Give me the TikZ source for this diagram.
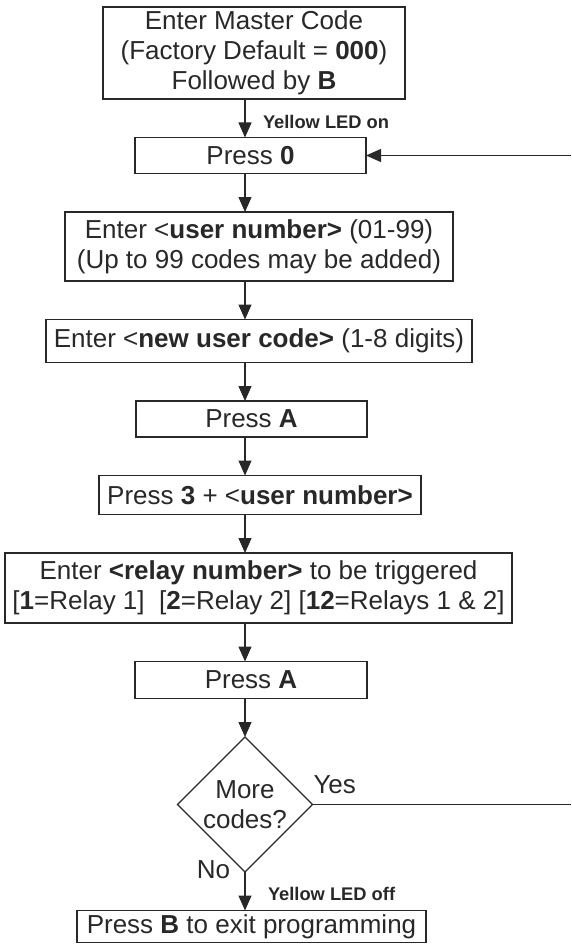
\documentclass[tikz,border=0pt]{standalone}
\usepackage{fontspec}
\setmainfont{Liberation Sans}
\usepackage{tikz}
\usetikzlibrary{arrows.meta,calc,positioning,shapes.geometric}
\definecolor{ink}{RGB}{40,40,40}
\tikzset{
	flow chart/.style={
		x=1pt, y=1pt,
		node distance=38.5pt,
		every node/.style={text=ink, inner sep=0pt, outer sep=0pt},
		ar/.style={draw=ink, line width=1.2pt, -{Triangle[length=15pt,width=13pt]}},
		wire/.style={draw=ink, line width=1.2pt}
		},
	big font/.style={font=\fontsize{26}{30}\selectfont},
	fbox/.style 2 args={draw=ink, line width=1.2pt, big font, align=center,
		minimum width=#1, minimum height=#2},
	decision/.style={diamond, draw=ink, line width=1.2pt, big font, align=center,
		aspect=1, minimum width=135pt, minimum height=135pt},
	led/.style={font=\fontsize{18.3}{20}\selectfont\bfseries},
	tag/.style={big font}
}

\begin{document}
\begin{tikzpicture}[flow chart]
  \useasboundingbox (0,0) rectangle (571,-944);
  \node[fbox={302pt}{92pt}] (master) at (254,-53)
    {Enter Master Code\\(Factory Default = \textbf{000})\\Followed by \textbf{B}};
  \node[fbox={231pt}{36pt}, below=of master, xshift=-3.5pt] (zero) {Press \textbf{0}};
  \node[fbox={388pt}{69pt}, below=of zero, xshift=8.5pt] (user)
    {Enter <\textbf{user number>} (01-99)\\(Up to 99 codes may be added)};
  \node[fbox={426pt}{43pt}, below=of user] (newcode) {Enter <\textbf{new user code>} (1-8 digits)};
  \node[fbox={231pt}{36pt}, below=of newcode, xshift=-7.5pt] (pressA) {Press \textbf{A}};
  \node[fbox={322pt}{39pt}, below=of pressA, xshift=8.5pt] (three) {Press \textbf{3} + <\textbf{user number>}};
  \node[fbox={507pt}{70pt}, below=of three, xshift=-1.5pt] (relay)
    {Enter \textbf{<relay number>} to be triggered\\{}[\textbf{1}=Relay 1]\ \ [\textbf{2}=Relay 2] [\textbf{12}=Relays 1 \& 2]};
  \node[fbox={232pt}{37pt}, below=of relay, xshift=-7.5pt] (pressAA) {Press \textbf{A}};
  \node[decision, below=of pressAA, xshift=-6pt] (more) {More\\codes?};
  \node[fbox={349pt}{32pt}, below=of more, xshift=6.5pt] (exit) {Press \textbf{B} to exit programming};
  \coordinate (edge) at (571,0);
  \node[led, anchor=west] (ledon) at ($(master.south -| more)+(18,-23)$) {Yellow LED on};
  \node[led, anchor=west] (ledoff) at ($(more.south)+(23,-22)$) {Yellow LED off};
  \node[tag, anchor=west] (yes) at ($(more.east)+(1,20)$) {Yes};
  \node[tag, anchor=east] (no) at ($(more.south)+(-15,2)$) {No};
  \foreach \a/\b in {master/zero, zero/user, user/newcode, newcode/pressA, pressA/three,
                     three/relay, relay/pressAA, pressAA/more, more/exit}
    \draw[ar] (\a.south -| more) -- (\b.north -| more);
  % back to the top when more codes follow
  \draw[wire] (more.east) -- (more.east -| edge);
  \draw[ar] (zero.east -| edge) -- (zero.east);
\end{tikzpicture}
\end{document}
